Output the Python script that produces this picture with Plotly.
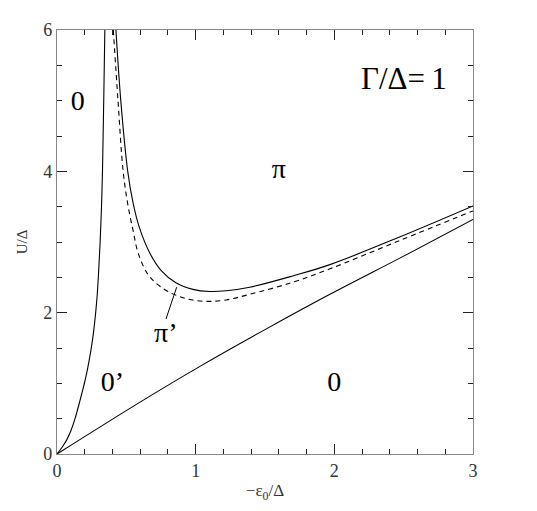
import plotly.graph_objects as go

# --- data (x = -eps0/Delta, y = U/Delta) ---
# left boundary 0 / 0'
left_x = [0.0, 0.02, 0.045, 0.07, 0.1, 0.13, 0.165, 0.195, 0.22, 0.243, 0.262, 0.279, 0.290,
          0.298, 0.311, 0.321, 0.328, 0.337, 0.345]
left_u = [0.0, 0.05, 0.12, 0.2, 0.33, 0.5, 0.75, 0.98, 1.2, 1.45, 1.7, 2.0, 2.25,
          2.5, 3.0, 3.5, 4.0, 5.0, 6.0]

# straight-ish boundary 0' / 0
low_x = [0.0, 0.614, 1.031, 1.5, 1.968, 2.5, 3.0]
low_u = [0.0, 0.752, 1.24, 1.76, 2.26, 2.8, 3.32]

# solid boundary pi / pi'
pi_x = [0.425, 0.46, 0.51, 0.55, 0.595, 0.67, 0.75, 0.86, 0.98, 1.1, 1.22, 1.39, 1.7, 1.968, 2.47, 3.0]
pi_u = [6.0, 5.0, 4.0, 3.54, 3.2, 2.84, 2.6, 2.42, 2.33, 2.30, 2.31, 2.36, 2.52, 2.68, 3.07, 3.51]

# dashed boundary
dash_x = [0.406, 0.44, 0.477, 0.51, 0.55, 0.586, 0.66, 0.766, 0.88, 0.99, 1.1, 1.22, 1.39, 1.7, 1.968, 2.47, 3.0]
dash_u = [6.0, 5.0, 4.0, 3.54, 3.15, 2.84, 2.53, 2.34, 2.23, 2.175, 2.16, 2.18, 2.26, 2.43, 2.62, 3.02, 3.44]

# pointer line to the pi' label
ptr_x = [0.863, 0.786]
ptr_u = [2.36, 1.91]

# region labels
region_text = ["0", "π", "0’", "0"]
region_x = [0.15, 1.6, 0.40, 2.0]
region_u = [4.97, 4.0, 0.99, 0.99]

font_serif = "Liberation Serif, Times New Roman, serif"

fig = go.Figure()
for xs, us, dash, smooth in [(left_x, left_u, "solid", 0.5), (low_x, low_u, "solid", 1.0),
                             (pi_x, pi_u, "solid", 1.0), (dash_x, dash_u, "5px,4px", 1.0)]:
    fig.add_trace(go.Scatter(x=xs, y=us, mode="lines",
                             line=dict(color="black", width=1.1, dash=dash, shape="spline", smoothing=smooth),
                             showlegend=False, hoverinfo="skip"))
fig.add_trace(go.Scatter(x=ptr_x, y=ptr_u, mode="lines",
                         line=dict(color="black", width=1), showlegend=False, hoverinfo="skip"))

fig.add_trace(go.Scatter(x=region_x, y=region_u, mode="text", text=region_text,
                         textfont=dict(family=font_serif, size=28, color="black"),
                         showlegend=False, hoverinfo="skip"))

fig.add_annotation(x=0.78, y=1.72, text="π’", showarrow=False, xanchor="center",
                   font=dict(family=font_serif, size=28, color="black"))
fig.add_annotation(x=2.83, y=5.32, text="Γ/Δ=\u20091", showarrow=False, xanchor="right",
                   font=dict(family=font_serif, size=31, color="black"))

axis_common = dict(showgrid=False, zeroline=False, showline=True, linecolor="#888", linewidth=1.3,
                   mirror="allticks", ticks="inside", ticklen=10, tickcolor="#222", tickwidth=1,
                   tickfont=dict(family=font_serif, size=18, color="#333"))

fig.update_xaxes(range=[0, 3], tickvals=[0, 1, 2, 3], ticktext=["0", "1", "2", "3"],
                 minor=dict(dtick=0.2, ticks="inside", ticklen=5, tickcolor="#222"),
                 title=dict(text="−ε<sub>0</sub>/Δ", font=dict(family=font_serif, size=17, color="#333"),
                            standoff=4),
                 **axis_common)
fig.update_yaxes(range=[0, 6], tickvals=[0, 2, 4, 6], ticktext=["0", "2", "4", "6"],
                 minor=dict(dtick=0.5, ticks="inside", ticklen=5, tickcolor="#222"),
                 title=dict(text="U/Δ", font=dict(family=font_serif, size=15, color="#333"),
                            standoff=12),
                 **axis_common)

fig.update_layout(width=537, height=511, plot_bgcolor="white", paper_bgcolor="white",
                  margin=dict(l=49, r=72, t=14, b=65))

fig.write_html("out.html")
